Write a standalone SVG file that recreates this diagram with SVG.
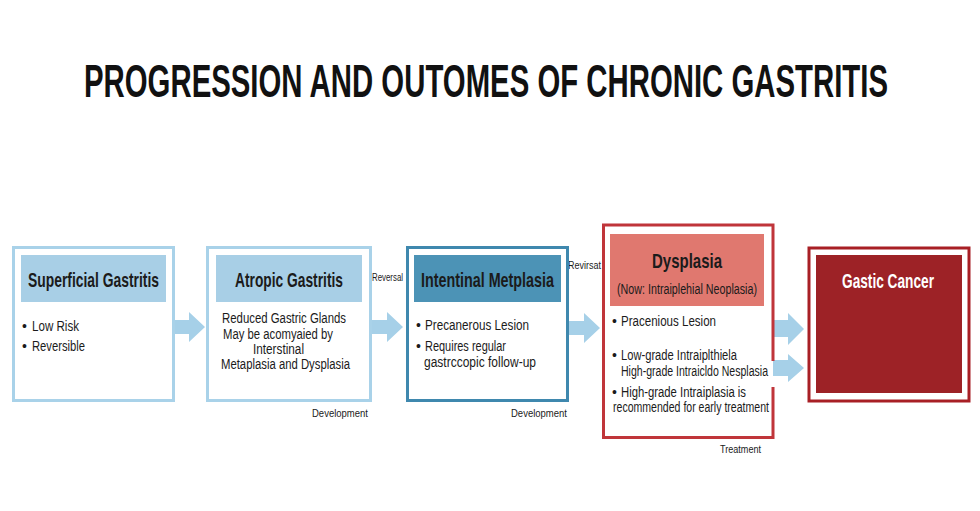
<svg xmlns="http://www.w3.org/2000/svg" width="980" height="511" viewBox="0 0 980 511">
<defs>
<style>
text{font-family:"Liberation Sans Narrow","Liberation Sans",Arial,sans-serif;fill:#1b1b1b}
.title{font-size:46px;font-weight:bold;fill:#111}
.hd{font-size:21px;font-weight:bold}
.body{font-size:14px}
.small{font-size:11.5px}
.lb{fill:#fff;stroke:#a9d2e9;stroke-width:3}
.lbh{fill:#a8cfe6}
.db{fill:#fff;stroke:#3f88ae;stroke-width:3}
.dbh{fill:#4c93b6}
.red{fill:none;stroke:#c0353a;stroke-width:3}
.pink{fill:#e0786f}
.arrow{fill:#a6d0e8}
</style>
</defs>
<rect width="980" height="511" fill="#ffffff"/>
<text class="title" x="84" y="97" textLength="804" lengthAdjust="spacingAndGlyphs">PROGRESSION AND OUTOMES OF CHRONIC GASTRITIS</text>

<g id="connectors">
<path class="arrow" d="M174,320 H189 V312 L205,327 L189,342 V334 H174 Z"/>
<path class="arrow" d="M372,320 H387 V312 L403,327 L387,342 V334 H372 Z"/>
<path class="arrow" d="M569,321 H584 V313 L600,328 L584,343 V335 H569 Z"/>
<path class="arrow" d="M773,320 H788 V313 L804,329 L788,345 V337 H773 Z"/>
<path class="arrow" d="M773,360 H788 V354 L804,368 L788,382 V376 H773 Z"/>
<text class="small" x="312" y="417" textLength="56" lengthAdjust="spacingAndGlyphs">Development</text>
<text class="small" x="372" y="281" textLength="31" lengthAdjust="spacingAndGlyphs">Reversal</text>
<text class="small" x="511" y="417" textLength="56" lengthAdjust="spacingAndGlyphs">Development</text>
<text class="small" x="568" y="269" textLength="33" lengthAdjust="spacingAndGlyphs">Revirsat</text>
<text class="small" x="720" y="453" textLength="41" lengthAdjust="spacingAndGlyphs">Treatment</text>
</g>

<g id="superficial-gastritis">
<rect class="lb" x="13.5" y="247.5" width="160" height="153"/>
<rect class="lbh" x="21" y="255" width="145" height="47"/>
<text class="hd" x="28" y="287" textLength="131" lengthAdjust="spacingAndGlyphs">Superficial Gastritis</text>
<text class="body" x="22" y="331">•</text>
<text class="body" x="32" y="331" textLength="47" lengthAdjust="spacingAndGlyphs">Low Risk</text>
<text class="body" x="22" y="351">•</text>
<text class="body" x="32" y="351" textLength="53" lengthAdjust="spacingAndGlyphs">Reversible</text>
</g>

<g id="atrophic-gastritis">
<rect class="lb" x="207.5" y="247.5" width="163" height="153"/>
<rect class="lbh" x="216" y="255" width="146" height="47"/>
<text class="hd" x="235" y="287" textLength="108" lengthAdjust="spacingAndGlyphs">Atropic Gastritis</text>
<text class="body" x="222" y="323" textLength="124" lengthAdjust="spacingAndGlyphs">Reduced Gastric Glands</text>
<text class="body" x="223" y="339" textLength="110" lengthAdjust="spacingAndGlyphs">May be acomyaied by</text>
<text class="body" x="253" y="354" textLength="51" lengthAdjust="spacingAndGlyphs">Interstinal</text>
<text class="body" x="221" y="369" textLength="129" lengthAdjust="spacingAndGlyphs">Metaplasia and Dysplasia</text>
</g>

<g id="intestinal-metaplasia">
<rect class="db" x="407.5" y="247.5" width="160" height="153"/>
<rect class="dbh" x="414" y="255" width="147" height="47"/>
<text class="hd" x="421" y="287" textLength="133" lengthAdjust="spacingAndGlyphs">Intentinal Metplasia</text>
<text class="body" x="416" y="330">•</text>
<text class="body" x="425" y="330" textLength="104" lengthAdjust="spacingAndGlyphs">Precanerous Lesion</text>
<text class="body" x="416" y="351">•</text>
<text class="body" x="425" y="351" textLength="81" lengthAdjust="spacingAndGlyphs">Requires regular</text>
<text class="body" x="424" y="367" textLength="112" lengthAdjust="spacingAndGlyphs">gastrccopic follow-up</text>
</g>

<g id="dysplasia">
<path class="red" d="M773,361 V225 H603.5 V437.5 H773 V387"/>
<rect class="pink" x="610" y="234" width="154" height="72"/>
<text class="hd" x="652" y="268" textLength="70" lengthAdjust="spacingAndGlyphs">Dysplasia</text>
<text class="body" x="617" y="294" textLength="140" lengthAdjust="spacingAndGlyphs">(Now: Intraiplehial Neoplasia)</text>
<text class="body" x="612" y="326">•</text>
<text class="body" x="621" y="326" textLength="95" lengthAdjust="spacingAndGlyphs">Pracenious Lesion</text>
<text class="body" x="612" y="360">•</text>
<text class="body" x="621" y="360" textLength="116" lengthAdjust="spacingAndGlyphs">Low-grade Intraiplthiela</text>
<text class="body" x="621" y="376" textLength="147" lengthAdjust="spacingAndGlyphs">High-grade Intraicldo Nesplasia</text>
<text class="body" x="612" y="397">•</text>
<text class="body" x="621" y="397" textLength="125" lengthAdjust="spacingAndGlyphs">High-grade Intraiplasia is</text>
<text class="body" x="613" y="412" textLength="156" lengthAdjust="spacingAndGlyphs">recommended for early treatment</text>
</g>

<g id="gastric-cancer">
<rect x="809" y="248" width="160" height="153" fill="#fff" stroke="#a81f25" stroke-width="3"/>
<rect x="816" y="255" width="146" height="138" fill="#9d2226"/>
<text class="hd" x="842" y="288" textLength="92" lengthAdjust="spacingAndGlyphs" style="fill:#ffffff">Gastic Cancer</text>
</g>
</svg>
